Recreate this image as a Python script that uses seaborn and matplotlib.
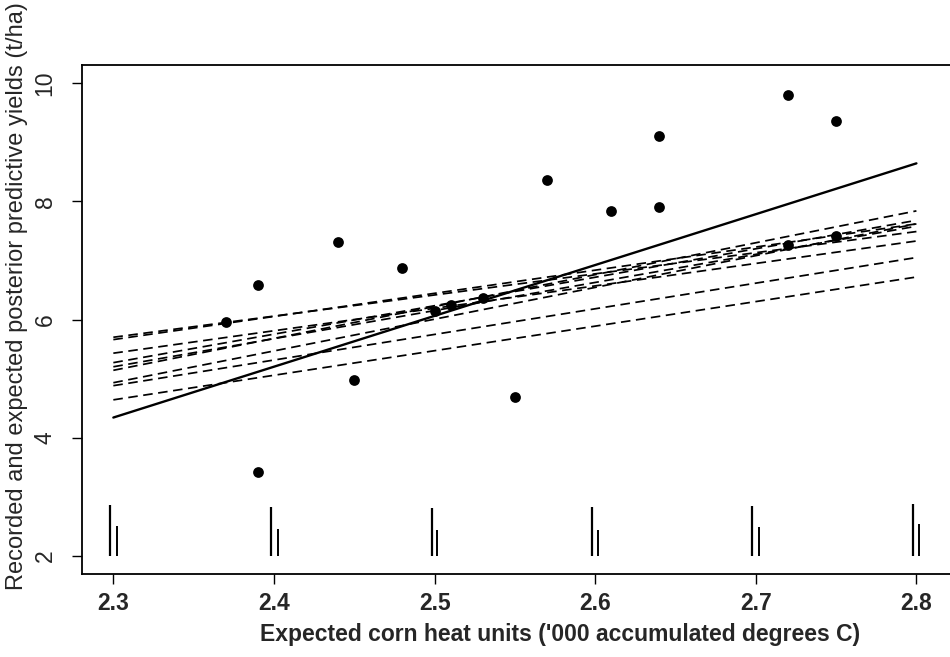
import matplotlib
matplotlib.use("Agg")
import matplotlib.pyplot as plt
import seaborn as sns
import pandas as pd

# recorded yields
heat_units = [2.37, 2.39, 2.39, 2.44, 2.45, 2.48, 2.50, 2.51, 2.53,
              2.55, 2.57, 2.61, 2.64, 2.64, 2.72, 2.72, 2.75, 2.75]
yields = [5.95, 6.59, 3.42, 7.32, 4.97, 6.88, 6.14, 6.24, 6.37,
          4.68, 8.37, 7.83, 9.10, 7.90, 9.81, 7.27, 9.36, 7.42]

# fitted line (solid) and posterior predictive lines (dashed), ends at 2.3 and 2.8
line_x = [2.3, 2.8]
fit_ends = [4.34, 8.645]
pred_left = [5.70, 5.66, 5.43, 5.27, 5.20, 5.14, 4.93, 4.88, 4.64]
pred_right = [7.49, 7.62, 7.33, 7.68, 7.58, 7.84, 7.62, 7.05, 6.72]

# rug-like bars at the bottom
long_x = [2.298, 2.3983, 2.4981, 2.5981, 2.6976, 2.7979]
long_top = [2.86, 2.83, 2.81, 2.83, 2.85, 2.87]
short_x = [2.3024, 2.4025, 2.5018, 2.6018, 2.7020, 2.8014]
short_top = [2.50, 2.46, 2.44, 2.44, 2.48, 2.53]

sns.set_style("ticks")
plt.rcParams['font.family'] = ['Liberation Sans', 'DejaVu Sans']

fig = plt.figure(figsize=(9.5, 6.57), dpi=100)
ax = fig.add_axes([0.086, 0.1263, 0.915, 0.7747])

rows = []
for i, (l, r) in enumerate(zip(pred_left, pred_right)):
    for x, y in zip(line_x, [l, r]):
        rows.append({'x': x, 'y': y, 'draw': i})
pred = pd.DataFrame(rows)
sns.lineplot(data=pred, x='x', y='y', units='draw', estimator=None,
             color='black', lw=1.25, dashes=False, ax=ax,
             linestyle=(0, (5.5, 3.2)))

sns.lineplot(x=line_x, y=fit_ends, color='black', lw=1.7, ax=ax)

sns.scatterplot(x=heat_units, y=yields, color='black', s=60,
                edgecolor='black', linewidth=0, ax=ax, zorder=5)

ax.vlines(long_x, 2.0, long_top, color='black', lw=1.6)
ax.vlines(short_x, 2.0, short_top, color='black', lw=1.4)

ax.set_xlim(2.2803, 2.8215)
ax.set_ylim(1.69, 10.31)
ax.set_xticks([2.3, 2.4, 2.5, 2.6, 2.7, 2.8])
ax.set_yticks([2, 4, 6, 8, 10])
ax.set_xticklabels(['2.3', '2.4', '2.5', '2.6', '2.7', '2.8'],
                   fontsize=16.5, fontweight='bold')
ax.set_yticklabels(['2', '4', '6', '8', '10'], fontsize=16.5,
                   rotation=90, va='center')
ax.tick_params(axis='both', length=7, width=1, color='black')
ax.tick_params(axis='x', pad=6)
ax.tick_params(axis='y', pad=11)

for side in ['left', 'bottom', 'top']:
    ax.spines[side].set_linewidth(1.3)
    ax.spines[side].set_color('black')
ax.spines['right'].set_visible(False)

ax.set_xlabel("Expected corn heat units ('000 accumulated degrees C)",
              fontsize=16.5, fontweight='bold')
ax.xaxis.set_label_coords(0.550, -0.097)
ax.set_ylabel('Recorded and expected posterior predictive yields (t/ha)',
              fontsize=17)
ax.yaxis.set_label_coords(-0.062, 0.546)

fig.savefig('out.png', dpi=100)
